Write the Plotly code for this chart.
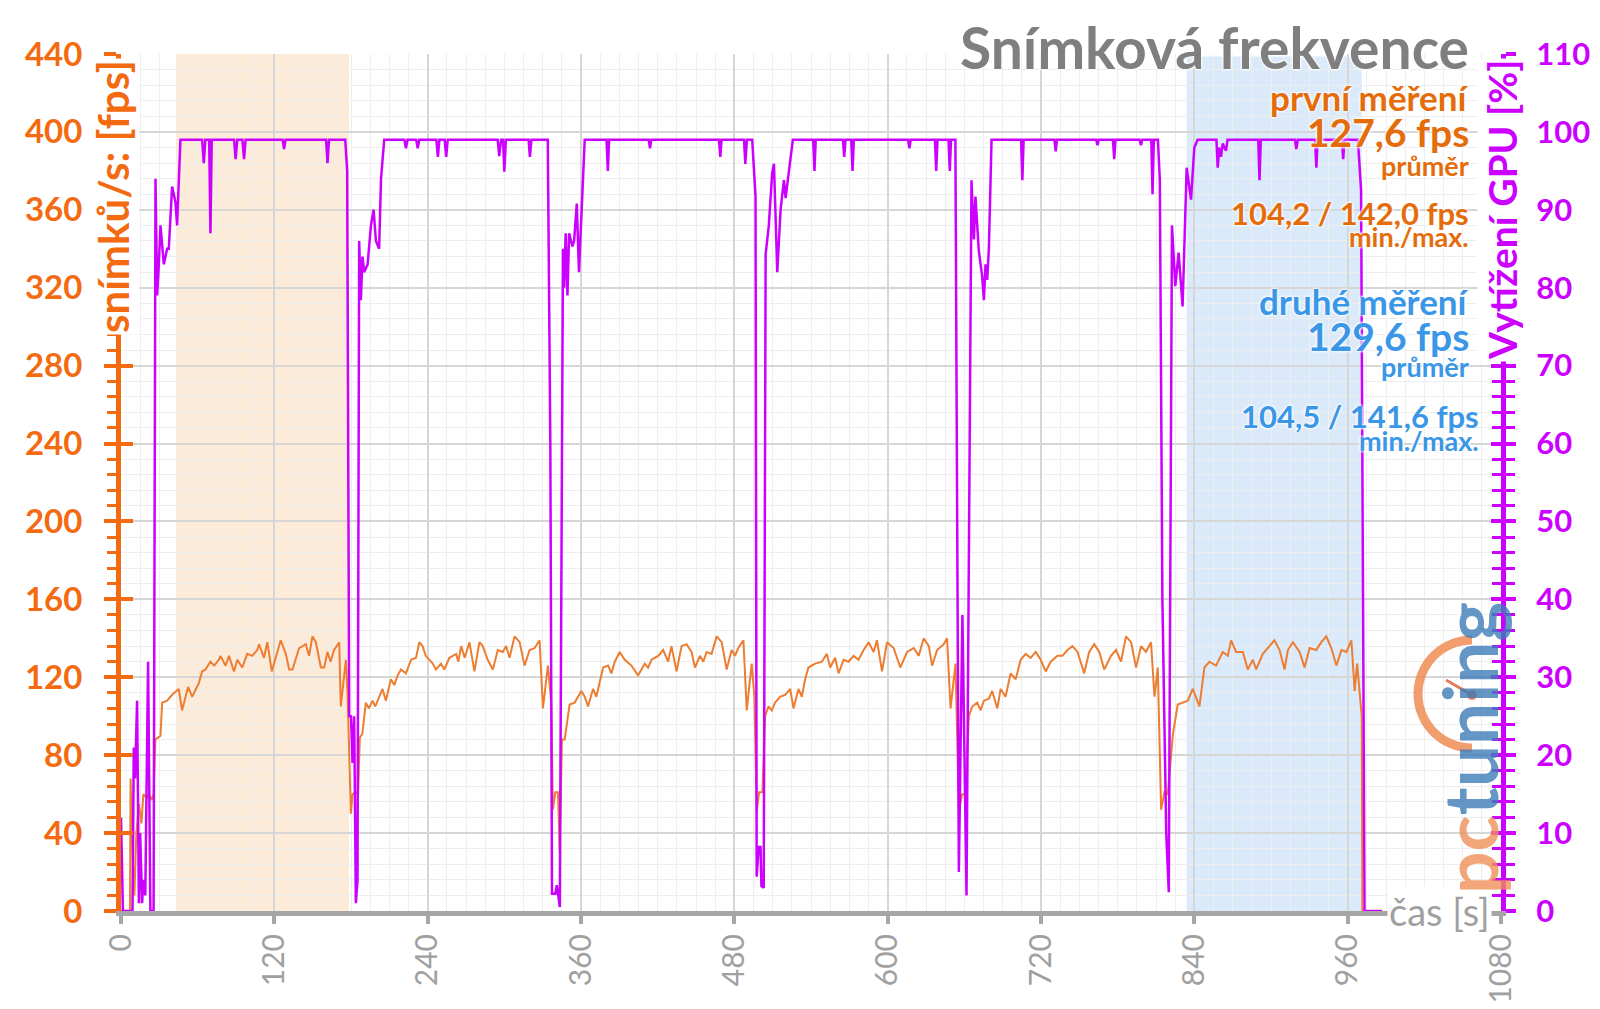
import numpy as np
import plotly.graph_objects as go

# frame rate (fps) over time
t_fps = [0, 7, 7.5, 9, 10.5, 12, 14, 16, 17.5, 20, 22, 24, 25.5, 26.9,
         30.9, 32.2, 36.1, 40, 45.2, 47.8, 52.5, 55.7, 60.9, 63.5, 66.1, 70, 73, 76.6, 77.9, 81.8,
         84.5, 88.4, 91, 94.9, 98.8, 102.7, 106.7, 108, 111.9, 114.5, 118, 122.4, 125, 129, 131.6,
         134.2, 137, 139.4, 144.6, 147.2, 149.8, 152.5, 156.4, 159, 161.6, 164, 166.8, 170.8, 172,
         176, 177.3, 178.6, 179.9, 181.2, 183.8, 185.6, 186.9,
         188.9, 191.6, 194, 196.9, 199, 202, 204.7, 207.3, 211.2, 213.9, 216.5, 219.1, 223, 227,
         230.9, 233.5, 236, 238.5, 241.3, 244, 246.5, 250.5, 253, 257, 262.3, 264, 266.2, 269,
         272.7, 276.6, 280.5, 283.1, 287, 291, 294.9, 298.8, 301.4, 304.1, 308, 312, 315.8, 319.8,
         323.7, 327.6, 330.2, 334.1, 336.7, 338, 339.9, 342, 343.3, 345.1, 347.2,
         351.1, 355, 357.6, 360.3, 362.9, 365.5, 369.4, 372, 377.3, 381.2, 383.8, 386.4, 390.3,
         394.2, 399.5, 404.7, 407.3, 409.9, 412.5, 415.2, 420.4, 424.3, 428.2, 430.8, 434.8, 438.7,
         442.6, 446.5, 449.2, 453.1, 455.7, 458.3, 462.2, 466.2, 470.1, 474, 477.9, 480.5, 483.1,
         487.1, 489.7, 493.6, 495.7, 497.5, 499.4, 502, 504.1,
         506.7, 509.3, 511.9, 515.8, 519.8, 523.7, 526.3, 530.2, 532.8, 535.4, 538, 543.3, 548.5,
         552.4, 555, 558.9, 561.6, 565.5, 569.4, 573.3, 577.2, 581.2, 585.1, 589, 591.6, 595.6,
         599.5, 604.7, 607.3, 609.9, 615.2, 620.4, 624.3, 628.2, 632.2, 634.8, 638.7, 643.9, 646.5,
         649.2, 653.1, 655.7, 658.3, 660.9, 663.5,
         666.2, 670.1, 672.7, 675.3, 679.2, 681.8, 685.8, 688.4, 692.3, 696.2, 700.2, 704.1, 708,
         711.9, 715.9, 719.8, 723.7, 727.6, 732.9, 736.8, 740.7, 744.6, 748.6, 753.8, 757.7, 761.7,
         765.6, 769.5, 774.8, 778.7, 782.6, 786.5, 790.5, 794.4, 798.3, 802.2, 806.1, 808.8, 811.4,
         814, 816.6, 819.2, 823.1,
         827, 830.9, 834.9, 838.8, 844, 847.9, 851.8, 857, 862.2, 866.2, 868.8, 872.7, 878, 881.8,
         885.8, 888.4, 893.6, 898.8, 902.7, 906.7, 910.6, 913.2, 917.1, 922.4, 926.3, 930.2, 935.4,
         939.4, 943.3, 947.2, 951.2, 955.1, 959, 962.9, 965.5, 967.4, 969.4, 971, 971.5, 975]
fps = [0, 0, 68, 30, 8, 40, 55, 45, 60, 58, 60, 57, 60, 88,
       90, 107, 108, 111, 114, 103, 115, 110, 117, 123, 124, 128, 126, 129, 131, 126,
       131, 123, 129, 125, 132, 131, 134, 137, 130, 138, 123, 134, 139, 132, 124,
       124, 130, 135, 137, 131, 141, 138, 125, 125, 133, 128, 134, 138, 105,
       129, 112, 75, 50, 60, 61, 60, 89,
       91, 107, 104, 108, 105, 110, 114, 108, 119, 116, 121, 124, 122, 129,
       130, 138, 136, 131, 129, 127, 124, 127, 124, 130, 132, 128, 136, 130,
       138, 123, 138, 136, 129, 124, 134, 133, 136, 130, 141, 138, 126, 134,
       135, 139, 104, 126, 107, 52, 61, 61, 30, 88, 88,
       106, 107, 110, 113, 110, 105, 114, 110, 125, 126, 122, 128, 133,
       129, 126, 121, 124, 127, 125, 129, 131, 134, 128, 136, 123, 136,
       137, 133, 125, 131, 128, 133, 132, 141, 138, 124, 134, 131, 135,
       139, 103, 127, 110, 51, 61, 61, 100,
       105, 103, 107, 110, 111, 114, 104, 114, 110, 119, 125, 127, 128,
       132, 125, 130, 122, 129, 128, 131, 129, 134, 138, 133, 139, 123,
       138, 135, 130, 125, 133, 135, 131, 140, 136, 126, 134, 137, 140,
       104, 127, 51, 60, 60, 100,
       105, 107, 103, 108, 109, 113, 104, 114, 110, 122, 119, 129, 132,
       130, 133, 129, 123, 128, 131, 131, 134, 136, 133, 122, 133, 137,
       133, 124, 131, 134, 128, 141, 138, 125, 136, 133, 138, 110, 125,
       52, 61, 60, 90,
       106, 107, 108, 114, 105, 125, 128, 126, 133, 131, 139, 133, 133, 124,
       129, 124, 132, 136, 139, 134, 124, 134, 138, 133, 125, 135, 134,
       138, 141, 135, 126, 134, 133, 139, 113, 127, 113, 100, 0, 0]

# GPU load (%) over time
t_gpu = [0, 1.5, 9, 10, 11, 12.6, 14, 15, 16.5, 17.5, 19, 21.2, 23, 25.5, 27, 28.3, 29.6, 30.9,
         33.5, 36.1, 37.4, 40, 42.6, 43.9, 46.5,
         63.5, 64.8, 66, 69, 70, 71, 88.5, 89.7, 91, 95, 96.3, 97.5, 126.5, 127.6, 128.8, 160.5,
         161.6, 162.8, 175.5, 177, 178.6, 180, 181.2, 182.5, 183.8, 185.1,
         186.4, 187.7, 189, 190.3, 193, 195.6, 197.7, 199.5, 202, 203.5, 206, 221.8, 223, 224.2,
         231, 232.2, 233.4, 246.8, 248, 249.2, 253.3, 254.5, 255.7, 294.8, 296, 297.5, 299, 300,
         301.2, 319, 320, 321.2, 334, 336, 337.3, 340, 341, 342.2, 343.4,
         345.9, 346.8, 348, 349.4, 350.7, 353.3, 354.6, 356.7, 358.4, 362.9, 380, 381, 382, 413,
         414, 415, 468, 469, 470, 487.6, 488.6, 489.8, 494, 496.6, 497.5, 499, 500.5, 501.2, 503,
         504.5, 507, 509.6, 511, 513.6, 516.2, 518.8, 520.1, 522.7, 525.8, 541.7, 542.7, 543.7,
         565, 566, 567, 571.5, 572.5, 573.5, 616, 617, 618, 637, 638, 639, 647.6, 648.6, 649.6,
         653, 655.7, 658.5, 661.7,
         665.6, 667.5, 668.7, 671.3, 674, 675.3, 676.6, 677.9, 679.2, 681.3, 704.4, 705.4, 706.4,
         730.5, 731.5, 732.5, 763.2, 764.2, 765.2, 776.3, 777.3, 778.3, 797.2, 798.2, 799.2, 806.3,
         807.3, 808.3, 811.5, 813, 815, 818, 820,
         822.5, 825.1, 827.7, 830.8, 832.2, 834, 837.4, 840, 842.6, 857.3, 858.3, 859.5, 860.9,
         862.2, 863.5, 864.8, 866, 890, 891, 892, 918.8, 919.8, 921, 934.5, 935.5, 936.5, 955.5,
         956.5, 957.5, 968, 970.5, 973.2, 987]
gpu = [12, 0, 0, 21, 17, 27, 1, 10, 1, 4, 2, 32, 0, 0, 94, 79, 83, 88,
       83, 85, 85, 93, 91, 88, 99,
       99, 96, 99, 99, 87, 99, 99, 96.5, 99, 99, 96.5, 99, 99, 97.8, 99, 99,
       96, 99, 99, 95, 25, 25, 19, 25, 1, 4,
       86, 78.4, 84, 82, 83, 88, 90, 86, 85, 94, 99, 99, 97.9, 99,
       99, 97.9, 99, 99, 96.8, 99, 99, 96.8, 99, 99, 96.9, 99, 99, 94.9,
       99, 99, 96.8, 99, 99, 60, 2.2, 2.2, 3.3, 2, 0.5,
       85, 80, 87, 79, 87, 85.3, 86, 90.8, 82, 99, 99, 95, 99, 99,
       97.9, 99, 99, 96.8, 99, 99, 95.9, 99, 99, 91.7, 4.4, 8.2, 8.2, 3.2, 3,
       84.3, 88, 94.7, 95.9, 82, 90, 93.8, 91.5, 94.7, 99, 99, 95, 99,
       99, 96.8, 99, 99, 95, 99, 99, 97.9, 99, 99, 95, 99, 99, 95, 99,
       99, 5, 38, 2,
       93.8, 86.2, 91.7, 84.8, 81.4, 78.4, 83, 81, 85, 99, 99, 93.8, 99,
       99, 97.5, 99, 99, 98.3, 99, 99, 96.5, 99, 99, 98.3, 99, 99,
       92, 99, 99, 93.8, 40, 10, 2.4,
       88, 80.2, 84.5, 77.6, 85.2, 95.4, 91.3, 98, 99, 99, 95.4, 98, 96.8,
       98.5, 98, 97.6, 99, 99, 93.8, 99, 99, 97.8, 99, 99, 95.4, 99, 99,
       96.5, 99, 99, 92.5, 0, 0]

# highlighted measurement windows (s)
first_run = [43, 178.5]
second_run = [834, 971]

first_texts = ["první měření", "127,6 fps", "průměr", "104,2 / 142,0 fps", "min./max."]
second_texts = ["druhé měření", "129,6 fps", "průměr", "104,5 / 141,6 fps", "min./max."]

ORANGE = "#F36A10"
MAGENTA = "#CC00FF"
GRAY = "#A0A0A0"
TXT_OR = "#E46C0A"
TXT_BL = "#3A96E6"

W, H = 1600, 1009
L, R, T, B = 121, 1501, 54, 911


def px(x):
    return (x - L) / (R - L)


def py(y):
    return (B - y) / (B - T)


fig = go.Figure()
fig.add_trace(go.Scatter(x=t_fps, y=fps, mode="lines", line=dict(color="#ED7D31", width=2),
                         yaxis="y", showlegend=False, hoverinfo="skip"))
fig.add_trace(go.Scatter(x=t_gpu, y=gpu, mode="lines", line=dict(color=MAGENTA, width=2.5),
                         yaxis="y2", showlegend=False, hoverinfo="skip"))
# dummy traces so the extra tick axes get drawn
fig.add_trace(go.Scatter(x=[None], y=[None], yaxis="y3", showlegend=False))
fig.add_trace(go.Scatter(x=[None], y=[None], yaxis="y4", showlegend=False))

fig.add_shape(type="rect", xref="x", yref="paper", x0=first_run[0], x1=first_run[1], y0=0, y1=1,
              fillcolor="#FDEBDA", line_width=0, layer="below")
fig.add_shape(type="rect", xref="x", yref="paper", x0=second_run[0], x1=second_run[1], y0=0, y1=0.997,
              fillcolor="#DAEAFA", line_width=0, layer="below")

font = "Lato"
fig.update_layout(
    width=W, height=H,
    margin=dict(l=L, r=W - R, t=T, b=H - B, pad=0, autoexpand=False),
    plot_bgcolor="white", paper_bgcolor="white",
    font=dict(family=font),
    xaxis=dict(range=[0, 1080], dtick=120, tick0=0, tickangle=-90, automargin=False,
               showgrid=True, gridcolor="#D6D6D6", gridwidth=1.5, zeroline=False,
               minor=dict(dtick=15, showgrid=True, gridcolor="#EEEEEE", gridwidth=1),
               showline=True, linecolor="#A6A6A6", linewidth=5,
               ticks="outside", ticklen=8, tickwidth=4, tickcolor="#A6A6A6",
               tickfont=dict(size=30, color=GRAY, family=font), ticklabelstandoff=-2),
    yaxis=dict(range=[0, 440], dtick=40, tick0=0, automargin=False,
               showgrid=True, gridcolor="#D6D6D6", gridwidth=1.5, zeroline=False,
               minor=dict(dtick=8, showgrid=True, gridcolor="#EEEEEE", gridwidth=1,
                          ticks="outside", ticklen=9, tickwidth=3, tickcolor=ORANGE),
               showline=True, linecolor=ORANGE, linewidth=5,
               ticks="outside", ticklen=12, tickwidth=4, tickcolor=ORANGE,
               tickfont=dict(size=33, color=ORANGE, family=font, weight="bold"),
               ticklabelstandoff=15),
    yaxis2=dict(range=[0, 110], dtick=10, tick0=0, overlaying="y", side="right", anchor="x",
                automargin=False, showgrid=False, zeroline=False,
                minor=dict(dtick=2, ticks="outside", ticklen=9, tickwidth=3, tickcolor=MAGENTA),
                showline=True, linecolor=MAGENTA, linewidth=5,
                ticks="outside", ticklen=10, tickwidth=4, tickcolor=MAGENTA,
                tickfont=dict(size=31, color=MAGENTA, family=font, weight="bold"),
                ticklabelstandoff=14),
    yaxis3=dict(range=[0, 440], dtick=40, overlaying="y", side="left", anchor="x", automargin=False,
                showgrid=False, zeroline=False, showline=False, showticklabels=False,
                ticks="inside", ticklen=12, tickwidth=4, tickcolor=ORANGE),
    yaxis4=dict(range=[0, 110], dtick=10, overlaying="y", side="right", anchor="x", automargin=False,
                showgrid=False, zeroline=False, showline=False, showticklabels=False,
                minor=dict(dtick=2, ticks="inside", ticklen=9, tickwidth=3, tickcolor=MAGENTA),
                ticks="inside", ticklen=10, tickwidth=4, tickcolor=MAGENTA),
)

halo = "0 0 3px white, 0 0 3px white, 0 0 3px white"
ann = []
ann.append(dict(text="<b>Snímková frekvence</b>", x=px(1471), y=py(47), xanchor="right", yanchor="middle",
                font=dict(size=57, color="#7F7F7F", family=font, shadow=halo)))
sizes = [35, 39, 27, 31, 27]
ys1 = [97, 132, 165, 213, 236]
ys2 = [301, 336, 366, 416, 441]
xr1 = [1471, 1471, 1471, 1471, 1471]
xr2 = [1471, 1471, 1471, 1481, 1481]
for i, s in enumerate(first_texts):
    ann.append(dict(text="<b>%s</b>" % s, x=px(xr1[i]), y=py(ys1[i]), xanchor="right", yanchor="middle",
                    font=dict(size=sizes[i], color=TXT_OR, family=font, shadow=halo)))
for i, s in enumerate(second_texts):
    ann.append(dict(text="<b>%s</b>" % s, x=px(xr2[i]), y=py(ys2[i]), xanchor="right", yanchor="middle",
                    font=dict(size=sizes[i], color=TXT_BL, family=font, shadow=halo)))
# axis titles
ann.append(dict(text="<b>snímků/s: [fps]</b>", textangle=-90, x=px(113), y=py(197),
                xanchor="center", yanchor="middle", bgcolor="white",
                font=dict(size=42, color=ORANGE, family=font)))
ann.append(dict(text="<b>Vytížení GPU [%]</b>", textangle=-90, x=px(1502), y=py(210),
                xanchor="center", yanchor="middle", bgcolor="white",
                font=dict(size=39, color=MAGENTA, family=font)))
ann.append(dict(text="čas [s]", x=px(1492), y=py(911), xanchor="right", yanchor="middle",
                bgcolor="white", font=dict(size=38, color=GRAY, family=font)))
# pctuning logo
ann.append(dict(text="<b><span style='color:#F0905A'>pc</span><span style='color:#3E7CB8'>tuning</span></b>",
                textangle=-90, x=px(1469), y=py(748), xanchor="center", yanchor="middle",
                opacity=0.8, font=dict(size=75, family=font)))
for a in ann:
    a.setdefault("xref", "paper")
    a.setdefault("yref", "paper")
    a.setdefault("showarrow", False)
fig.update_layout(annotations=ann)

# logo gauge arc + needle
ang = np.linspace(np.pi / 2, 3 * np.pi / 2, 40)
cx, cy, r = 1472, 694, 54
pts = ["%s%.5f,%.5f" % ("M" if i == 0 else "L", px(cx + r * np.cos(a)), py(cy - r * np.sin(a)))
       for i, a in enumerate(ang)]
fig.add_shape(type="path", xref="paper", yref="paper", path=" ".join(pts),
              line=dict(color="rgba(240,140,85,0.85)", width=9))
fig.add_shape(type="line", xref="paper", yref="paper", x0=px(1446), y0=py(680), x1=px(1472), y1=py(695),
              line=dict(color="rgba(225,110,70,0.9)", width=3))
fig.add_shape(type="circle", xref="paper", yref="paper", x0=px(1467), y0=py(690), x1=px(1477), y1=py(700),
              fillcolor="rgba(225,110,70,0.9)", line_width=0)

# drop the default 8px body margin so the figure sits at the page origin
fig.write_html("out.html", config={"displayModeBar": False},
               post_script="document.body.style.margin='0';")
